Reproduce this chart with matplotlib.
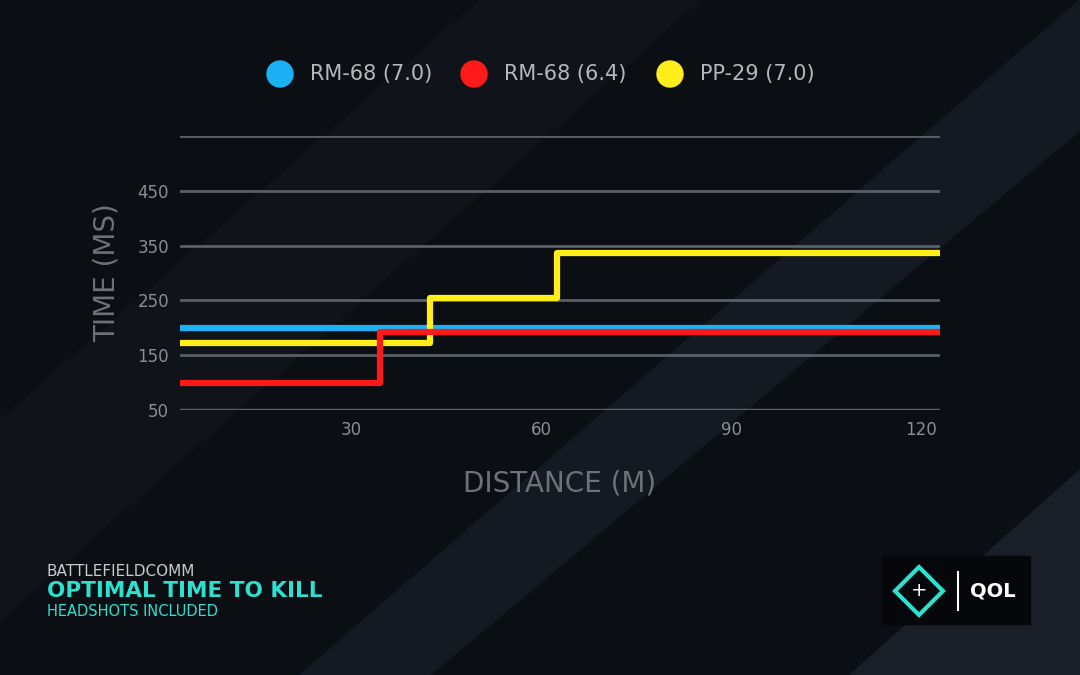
import matplotlib
matplotlib.use("Agg")
import matplotlib.pyplot as plt
from matplotlib.patches import Polygon, Rectangle

series_names = ["RM-68 (7.0)", "RM-68 (6.4)", "PP-29 (7.0)"]
colors = ["#1ab2f5", "#ff1a1a", "#ffee1a"]
blue_x = [3, 123]; blue_y = [200, 200]
red_x = [3, 34.5, 34.5, 123]; red_y = [100, 100, 193, 193]
yel_x = [3, 42.5, 42.5, 62.5, 62.5, 123]; yel_y = [173, 173, 255, 255, 336, 336]
xticks = [30, 60, 90, 120]
yticks = [50, 150, 250, 350, 450]

fig = plt.figure(figsize=(10.8, 6.75), dpi=100)
fig.patch.set_facecolor("#0b0e13")
bg = fig.add_axes([0, 0, 1, 1]); bg.set_xlim(0, 1080); bg.set_ylim(675, 0); bg.axis("off")
bg.add_patch(Polygon([[300, 675], [1080, 0], [1080, 130], [430, 675]], color="#151a22"))
bg.add_patch(Polygon([[0, 420], [480, 0], [700, 0], [0, 620]], color="#10141a"))
bg.add_patch(Polygon([[850, 675], [1080, 470], [1080, 675]], color="#1a1f27"))

ax = fig.add_axes([180/1080, 1-410/675, 760/1080, 274/675])
ax.set_facecolor("none")
ax.set_xlim(3, 123); ax.set_ylim(50, 550)
for g in [150, 250, 350, 450, 550]:
    ax.axhline(g, color="#5a5e66", lw=2, zorder=1)
ax.axhline(50, color="#5a5e66", lw=2.5, zorder=1)
for x, y, c in [(blue_x, blue_y, colors[0]), (yel_x, yel_y, colors[2]), (red_x, red_y, colors[1])]:
    ax.plot(x, y, color=c, lw=4.5, zorder=3, solid_joinstyle="round")
for s in ax.spines.values(): s.set_visible(False)
ax.set_xticks(xticks); ax.set_yticks(yticks)
ax.tick_params(colors="#8a8d93", length=0, labelsize=12, pad=8)
ax.set_xlabel("DISTANCE (M)", color="#6e7177", fontsize=20, labelpad=22)
ax.set_ylabel("TIME (MS)", color="#6e7177", fontsize=20, labelpad=12)

for i, (n, c) in enumerate(zip(series_names, colors)):
    x0 = [280, 474, 670][i]
    bg.add_patch(plt.Circle((x0, 74), 13, color=c))
    bg.text(x0 + 30, 74, n, color="#b5b7bb", fontsize=15, va="center")

bg.text(47, 571, "BATTLEFIELDCOMM", color="#c8cacd", fontsize=11, va="center")
bg.text(47, 591, "OPTIMAL TIME TO KILL", color="#2de0d0", fontsize=15.5, fontweight="bold", va="center")
bg.text(47, 611, "HEADSHOTS INCLUDED", color="#2de0d0", fontsize=10.5, va="center")
bg.add_patch(Rectangle((882, 556), 148, 68, color="#05070a"))
bg.add_patch(Polygon([[919, 567], [943, 591], [919, 615], [895, 591]], fill=False, ec="#2de0d0", lw=3))
bg.text(919, 591, "+", color="white", fontsize=14, ha="center", va="center")
bg.plot([958, 958], [572, 610], color="white", lw=1.5)
bg.text(970, 591, "QOL", color="white", fontsize=14, fontweight="bold", va="center")

fig.savefig("out.png", dpi=100, facecolor=fig.get_facecolor())
